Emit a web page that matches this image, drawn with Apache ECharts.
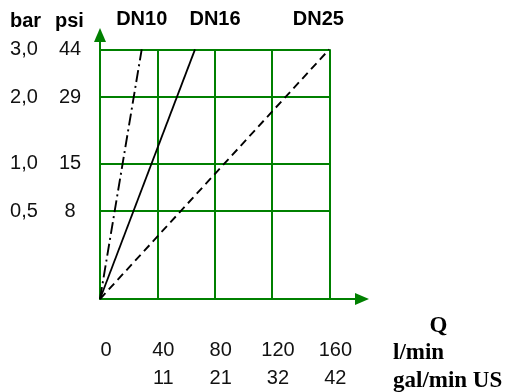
<!DOCTYPE html>
<html>
<head>
<meta charset="utf-8">
<script src="https://cdn.jsdelivr.net/npm/echarts@6/dist/echarts.min.js"></script>
<style>html,body{margin:0;padding:0;background:#fff}#c{width:507px;height:392px}</style>
</head>
<body>
<div id="c"></div>
<script>
// ---- data ----
const flowTicks = [0, 40, 80, 120, 160];            // l/min
const galTicks = ['', '11', '21', '32', '42'];      // gal/min US
const barTicks = [0.5, 1.0, 2.0, 3.0];              // bar
const barLabels = ['0,5', '1,0', '2,0', '3,0'];
const psiLabels = ['8', '15', '29', '44'];
// nonlinear pressure scale of the original nomogram (relative height of each bar value)
const scaleBar = [0, 0.5, 1.0, 2.0, 3.0];
const scaleRel = [0, 0.352, 0.543, 0.808, 1.0];
const dn10 = [[0, 0], [29.1, 3.0]];
const dn16 = [[0, 0], [66.3, 3.0]];
const dn25 = [[0, 0], [160, 3.0]];

function rel(p) {
  for (let i = 1; i < scaleBar.length; i++) {
    if (p <= scaleBar[i]) {
      const t = (p - scaleBar[i - 1]) / (scaleBar[i] - scaleBar[i - 1]);
      return scaleRel[i - 1] + t * (scaleRel[i] - scaleRel[i - 1]);
    }
  }
  return scaleRel[scaleRel.length - 1];
}
const pts = arr => arr.map(d => [d[0], rel(d[1])]);
function nearest(list, v) {
  let best = 0;
  list.forEach((x, i) => { if (Math.abs(x - v) < Math.abs(list[best] - v)) best = i; });
  return best;
}

const GREEN = '#008000';
const qMax = flowTicks[flowTicks.length - 1];
const pMax = barTicks[barTicks.length - 1];
const barPos = barTicks.map(rel);

const gridLines = [];
flowTicks.slice(1).forEach(q => gridLines.push([{coord: [q, 0]}, {coord: [q, rel(pMax)]}]));
barTicks.forEach(p => gridLines.push([{coord: [0, rel(p)]}, {coord: [qMax, rel(p)]}]));

const chart = echarts.init(document.getElementById('c'));
const numFont = 'Liberation Sans, Arial, sans-serif';
const serif = 'Liberation Serif, Times New Roman, serif';

function dnSeries(name, data, dash, width, offX) {
  return {
    name: name, type: 'line', data: pts(data), z: 5,
    symbol: 'circle', symbolSize: 1, showSymbol: true, silent: true,
    itemStyle: {color: 'rgba(0,0,0,0)'},
    lineStyle: {color: '#000', width: width, type: dash},
    label: {
      show: true, position: 'top', distance: 19, offset: [offX, 0],
      formatter: p => p.dataIndex === data.length - 1 ? name : '',
      fontFamily: numFont, fontWeight: 'bold', fontSize: 20, color: '#000'
    }
  };
}

chart.setOption({
  animation: false,
  grid: {left: 100, right: 145, top: 35, bottom: 93, containLabel: false, outerBoundsMode: 'none'},
  xAxis: {
    type: 'value', min: 0, max: 182.8,
    axisLine: {show: true, lineStyle: {color: GREEN, width: 2}, symbol: ['none', 'triangle'], symbolSize: [12, 14]},
    axisTick: {show: false},
    splitLine: {show: false},
    axisLabel: {
      customValues: flowTicks,
      margin: 37, fontFamily: numFont, fontSize: 20, color: '#111', lineHeight: 28,
      padding: [0, 0, 0, 12],
      formatter: v => {
        const i = nearest(flowTicks, v);
        return galTicks[i] ? flowTicks[i] + '\n' + galTicks[i] : String(flowTicks[i]);
      }
    }
  },
  yAxis: {
    type: 'value', min: 0, max: 1.0573,
    axisLine: {show: true, lineStyle: {color: GREEN, width: 2}, symbol: ['none', 'triangle'], symbolSize: [12, 14]},
    axisTick: {show: false},
    splitLine: {show: false},
    axisLabel: {
      customValues: barPos,
      margin: 15,
      formatter: v => {
        const i = nearest(barPos, v);
        return '{b|' + barLabels[i] + '}{s|}{p|' + psiLabels[i] + '}';
      },
      rich: {
        b: {width: 36, align: 'center', fontFamily: numFont, fontSize: 20, color: '#111'},
        s: {width: 13},
        p: {width: 30, align: 'center', fontFamily: numFont, fontSize: 20, color: '#111'}
      }
    }
  },
  series: [
    {
      type: 'line', data: [[0, 0]], symbol: 'none', silent: true, z: 1,
      lineStyle: {width: 0},
      markLine: {
        silent: true, symbol: 'none', animation: false,
        lineStyle: {color: GREEN, width: 2, type: 'solid'},
        label: {show: false},
        data: gridLines
      }
    },
    dnSeries('DN10', dn10, [12, 4, 2, 4], 1.9, 0),
    dnSeries('DN16', dn16, 'solid', 1.8, 20),
    dnSeries('DN25', dn25, [8, 5], 1.9, -11)
  ],
  graphic: [
    {type: 'text', x: 10, y: 21, style: {text: 'bar', font: 'bold 20px ' + numFont, fill: '#000', verticalAlign: 'middle'}},
    {type: 'text', x: 55, y: 21, style: {text: 'psi', font: 'bold 20px ' + numFont, fill: '#000', verticalAlign: 'middle'}},
    {type: 'text', x: 438.5, y: 326, style: {text: 'Q', font: 'bold 23px ' + serif, fill: '#000', align: 'center', verticalAlign: 'middle'}},
    {type: 'text', x: 393, y: 353, style: {text: 'l/min', font: 'bold 23px ' + serif, fill: '#000', verticalAlign: 'middle'}},
    {type: 'text', x: 393, y: 381, style: {text: 'gal/min US', font: 'bold 23px ' + serif, fill: '#000', verticalAlign: 'middle'}}
  ]
});
</script>
</body>
</html>
